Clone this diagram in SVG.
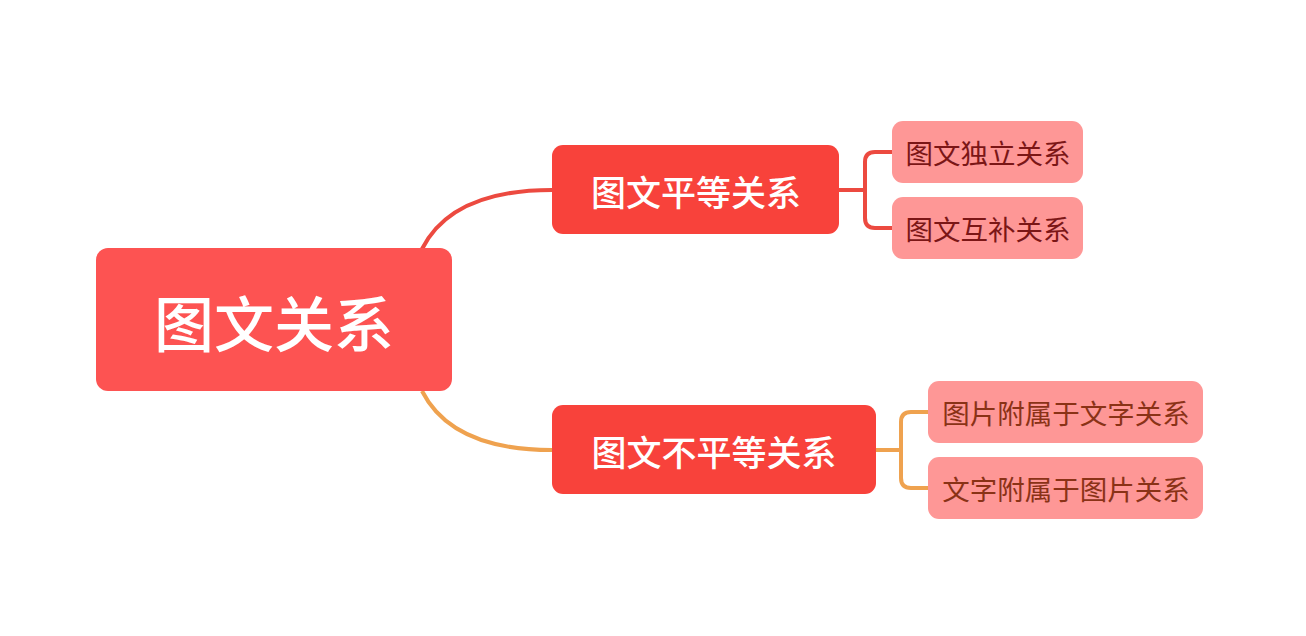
<svg xmlns="http://www.w3.org/2000/svg" width="1306" height="636" viewBox="0 0 1306 636">
<style>
text{font-family:"Noto Sans CJK SC","Noto Sans",sans-serif;text-anchor:middle;dominant-baseline:central}
.root{fill:#fd5352}
.main{fill:#f8423b}
.sub{fill:#fe9796}
.rt{fill:#fff;font-size:60px;font-weight:500}
.mt{fill:#fff;font-size:35px;font-weight:500}
.st1{fill:#7b1616;font-size:27.5px}
.st2{fill:#8a3216;font-size:27.5px}
.cr{fill:none;stroke:#ec4a40;stroke-width:4}
.co{fill:none;stroke:#efa24f;stroke-width:4}
</style>
<rect width="1306" height="636" fill="#fff"/>
<g id="connectors">
<path class="cr" d="M422 249 Q452 190 552 190"/>
<path class="co" d="M422 391 Q452 450 552 450"/>
<path class="cr" stroke-width="3" d="M839 190 H865 M892 152 H875 Q865 152 865 162 V218 Q865 228 875 228 H892"/>
<path class="co" stroke-width="3" d="M876 450 H901 M928 412 H911 Q901 412 901 422 V478 Q901 488 911 488 H928"/>
</g>
<g id="root"><rect class="root" x="96" y="248" width="356" height="143" rx="12"/><text class="rt" x="274" y="320">图文关系</text></g>
<g id="main1"><rect class="main" x="552" y="145" width="287" height="89" rx="11"/><text class="mt" x="696" y="190">图文平等关系</text></g>
<g id="main2"><rect class="main" x="552" y="405" width="324" height="89" rx="11"/><text class="mt" x="714" y="450">图文不平等关系</text></g>
<g id="sub1"><rect class="sub" x="892" y="121" width="191" height="62" rx="11"/><text class="st1" x="988" y="152">图文独立关系</text></g>
<g id="sub2"><rect class="sub" x="892" y="197" width="191" height="62" rx="11"/><text class="st1" x="988" y="228">图文互补关系</text></g>
<g id="sub3"><rect class="sub" x="928" y="381" width="275" height="62" rx="11"/><text class="st2" x="1066" y="412">图片附属于文字关系</text></g>
<g id="sub4"><rect class="sub" x="928" y="457" width="275" height="62" rx="11"/><text class="st2" x="1066" y="488">文字附属于图片关系</text></g>
</svg>
